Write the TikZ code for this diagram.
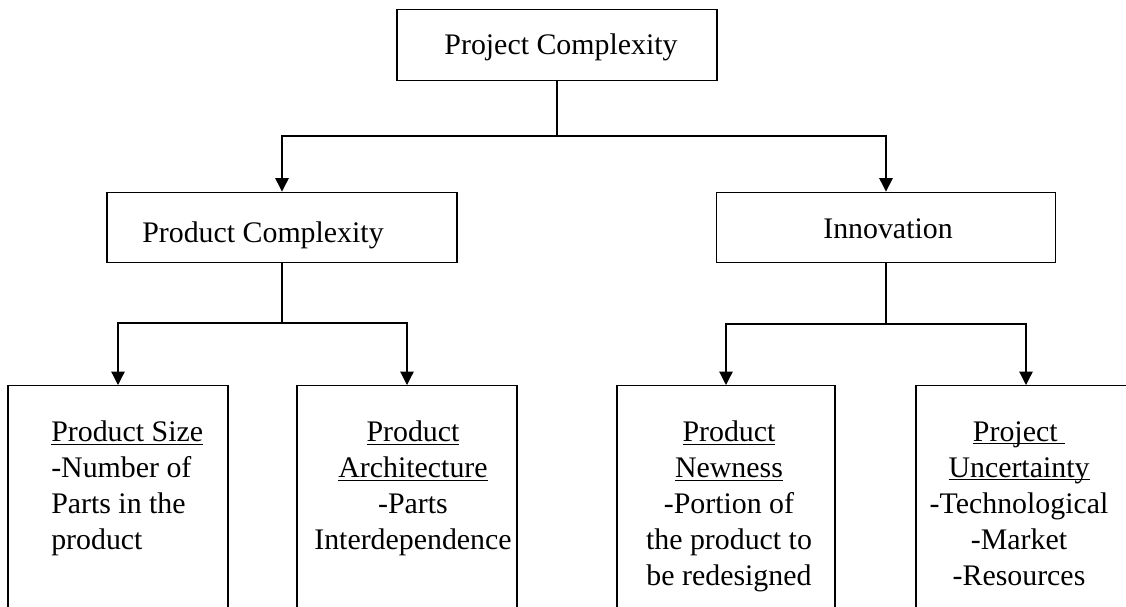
\documentclass[tikz,border=0pt]{standalone}
\usepackage{fontspec}
\setmainfont{Liberation Serif}
\usetikzlibrary{arrows.meta}
\newcommand\myul[1]{\setbox0\hbox{#1}\rlap{\rule[-2.3pt]{\wd0}{1.1pt}}\box0}
\begin{document}
\begin{tikzpicture}[x=0.75pt,y=-0.75pt,
  box/.style={draw, line width=0.9pt, inner sep=0, minimum height=53pt},
  tallbox/.style={draw, line width=0.9pt, inner sep=0, minimum height=191pt, anchor=north},
  lbl/.style={font=\fontsize{22.4}{27}\selectfont, inner sep=0},
  conn/.style={line width=0.9pt},
  arr/.style={conn, -{Triangle[length=10pt,width=10pt]}}]
\useasboundingbox (0,0) rectangle (1126,606);
\clip (0,0) rectangle (1126,606);
% boxes
\node[box, minimum width=240pt] (top) at (557,45) {};
\node[box, minimum width=262.5pt] (pc) at (282,227.5) {};
\node[box, minimum width=254pt] (inn) at (886,227.5) {};
\node[tallbox, minimum width=165pt] (b1) at (118,385) {};
\node[tallbox, minimum width=165pt] (b2) at (407,385) {};
\node[tallbox, minimum width=163.5pt] (b3) at (726,385) {};
\node[tallbox, minimum width=165pt] (b4) at (1026,385) {};
% texts
\node[lbl, anchor=base] (toptxt) at (561,55) {Project Complexity};
\node[lbl, anchor=base west] (pctxt) at (142,242) {Product Complexity};
\node[lbl, anchor=base] (inntxt) at (888,238) {Innovation};
\node[lbl, anchor=north west, align=left] (t1) at (51,421)
  {\myul{Product Size}\\-Number of\\Parts in the\\product};
\node[lbl, anchor=north, align=center] (t2) at (413,421)
  {\myul{Product}\\\myul{Architecture}\\-Parts\\Interdependence};
\node[lbl, anchor=north, align=center] (t3) at (729,421)
  {\myul{Product}\\\myul{Newness}\\-Portion of\\the product to\\be redesigned};
\node[lbl, anchor=north, align=center] (t4) at (1019,421)
  {\myul{Project\ }\\\myul{Uncertainty}\\-Technological\\-Market\\-Resources};
% connectors
\coordinate (j1) at (557,136);
\coordinate (j2) at (282,323);
\coordinate (j3) at (886,324);
\draw[conn] (top.south) -- (j1);
\draw[arr] (j1) -| (pc.north);
\draw[arr] (j1) -| (inn.north);
\draw[conn] (pc.south) -- (j2);
\draw[arr] (j2) -| (b1.north);
\draw[arr] (j2) -| (b2.north);
\draw[conn] (inn.south) -- (j3);
\draw[arr] (j3) -| (b3.north);
\draw[arr] (j3) -| (b4.north);
\end{tikzpicture}
\end{document}
